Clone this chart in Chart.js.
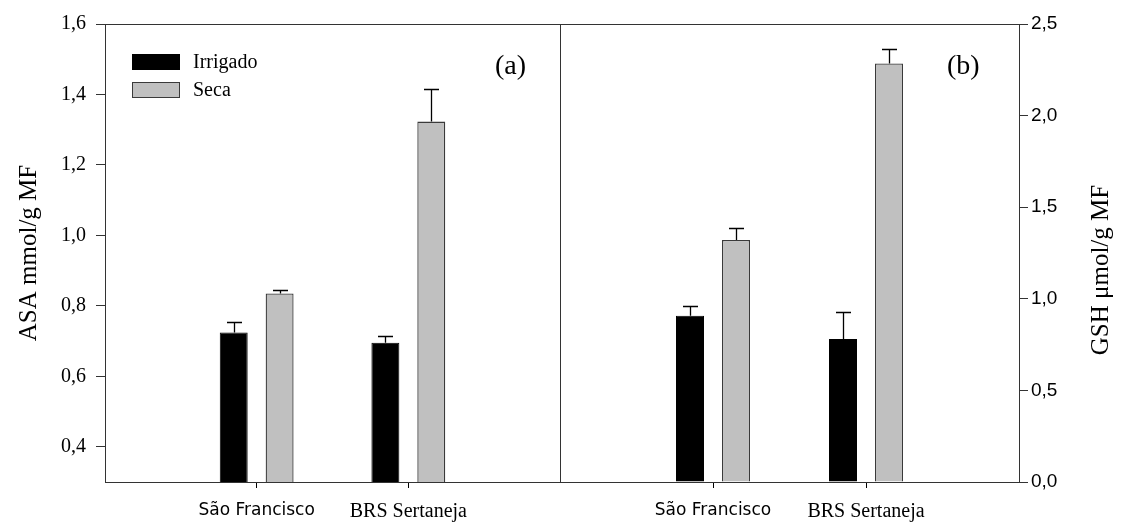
<!DOCTYPE html>
<html><head><meta charset="utf-8">
<script src="https://cdn.jsdelivr.net/npm/chart.js@4"></script>
<style>
html,body{margin:0;padding:0;background:#fff;width:1121px;height:522px;overflow:hidden}
#ca{position:absolute;left:0;top:0}
#cb{position:absolute;left:548px;top:0}
</style></head><body>
<canvas id="ca" width="572" height="522"></canvas>
<canvas id="cb" width="573" height="522"></canvas>
<script>
// ---- data ----
const categories = ['São Francisco', 'BRS Sertaneja'];
const seriesNames = ['Irrigado', 'Seca'];
const asaIrrigado = [0.724, 0.695];
const asaIrrigadoErr = [0.030, 0.020];
const asaSeca = [0.835, 1.323];
const asaSecaErr = [0.010, 0.093];
const gshIrrigado = [0.908, 0.780];
const gshIrrigadoErr = [0.055, 0.146];
const gshSeca = [1.321, 2.285];
const gshSecaErr = [0.065, 0.078];
const asaTicks = [0.4, 0.6, 0.8, 1.0, 1.2, 1.4, 1.6];
const gshTicks = [0.0, 0.5, 1.0, 1.5, 2.0, 2.5];
const asaTitle = 'ASA mmol/g MF';
const gshTitle = 'GSH μmol/g MF';

const SERIF = '"Liberation Serif", "Times New Roman", serif';
const SANS = '"Liberation Sans", Arial, sans-serif';
const DJV = '"DejaVu Sans", Verdana, sans-serif';

const xLabels = [''].concat(categories, ['']);
const pad = a => [null].concat(a, [null]);
const comma = v => Number(v).toFixed(1).replace('.', ',');

function mkDatasets(irr, irrE, sec, secE) {
  return [
    { label: seriesNames[0], data: pad(irr), errors: pad(irrE),
      backgroundColor: '#000000', borderColor: '#000000', borderWidth: 1 },
    { label: seriesNames[1], data: pad(sec), errors: pad(secE),
      backgroundColor: '#c0c0c0', borderColor: '#3a3a3a', borderWidth: 1.3 }
  ];
}

const errorBars = {
  id: 'errorBars',
  afterDatasetsDraw(chart) {
    const ctx = chart.ctx, ys = chart.scales.y;
    ctx.save();
    ctx.strokeStyle = '#000'; ctx.lineWidth = 1.3;
    chart.data.datasets.forEach((ds, i) => {
      const meta = chart.getDatasetMeta(i);
      meta.data.forEach((el, j) => {
        const v = ds.data[j];
        if (v == null) return;
        const yTop = ys.getPixelForValue(v);
        const yErr = ys.getPixelForValue(v + ds.errors[j]);
        const x = Math.round(el.x) + 0.5;
        ctx.beginPath();
        ctx.moveTo(x, yTop); ctx.lineTo(x, Math.round(yErr) + 0.5);
        ctx.moveTo(x - 7.5, Math.round(yErr) + 0.5); ctx.lineTo(x + 7.5, Math.round(yErr) + 0.5);
        ctx.stroke();
      });
    });
    ctx.restore();
  }
};

const frame = {
  id: 'frame',
  afterDraw(chart) {
    const a = chart.chartArea, ctx = chart.ctx;
    ctx.save();
    ctx.strokeStyle = '#333'; ctx.lineWidth = 1;
    ctx.strokeRect(Math.round(a.left) + 0.5, Math.round(a.top) + 0.5,
      Math.round(a.right - a.left), Math.round(a.bottom - a.top));
    ctx.restore();
  }
};

const legendAndLabel = {
  id: 'legendAndLabel',
  afterDraw(chart) {
    const ctx = chart.ctx;
    ctx.save();
    ctx.textBaseline = 'middle';
    ctx.font = '20px ' + SERIF;
    chart.data.datasets.forEach((ds, i) => {
      const y = 54 + i * 28;
      ctx.fillStyle = ds.backgroundColor;
      ctx.fillRect(132, y, 48, 16);
      ctx.strokeStyle = ds.borderColor; ctx.lineWidth = 1;
      ctx.strokeRect(132.5, y + 0.5, 47, 15);
      ctx.fillStyle = '#000';
      ctx.fillText(ds.label, 193, y + 9);
    });
    ctx.font = '28px ' + SERIF;
    ctx.textAlign = 'right';
    ctx.fillText('(a)', 526, 67);
    ctx.restore();
  }
};

const rightLabels = {
  id: 'rightLabels',
  afterDraw(chart) {
    const ctx = chart.ctx;
    ctx.save();
    ctx.fillStyle = '#000';
    ctx.textBaseline = 'middle';
    ctx.font = '28px ' + SERIF;
    ctx.textAlign = 'left';
    ctx.fillText('(b)', 399, 67);
    ctx.font = '25px ' + SERIF;
    ctx.translate(553, 270);
    ctx.rotate(-Math.PI / 2);
    ctx.textAlign = 'center';
    ctx.fillText(gshTitle, 0, 0);
    ctx.restore();
  }
};

function xScale() {
  return {
    type: 'category', offset: false,
    grid: { offset: false, drawOnChartArea: false, drawTicks: true, tickLength: 6,
      color: c => (c.index === 0 || c.index === xLabels.length - 1) ? 'rgba(0,0,0,0)' : '#000' },
    border: { display: false },
    ticks: { color: '#000', padding: 12, maxRotation: 0, autoSkip: false,
      font: c => c.index === 1 ? { family: DJV, size: 17 } : { family: SERIF, size: 20 } },
    afterFit: s => { s.height = 40; }
  };
}

new Chart(document.getElementById('ca'), {
  type: 'bar',
  data: { labels: xLabels, datasets: mkDatasets(asaIrrigado, asaIrrigadoErr, asaSeca, asaSecaErr) },
  options: {
    responsive: false, animation: false, devicePixelRatio: 1,
    categoryPercentage: 92 / 152, barPercentage: 28 / 46,
    layout: { padding: { left: 0, right: 12, top: 24, bottom: 0 } },
    plugins: { legend: { display: false }, tooltip: { enabled: false } },
    scales: {
      x: xScale(),
      y: {
        type: 'linear', position: 'left', min: 0.3, max: 1.6,
        afterBuildTicks: s => { s.ticks = asaTicks.map(v => ({ value: v })); },
        grid: { drawOnChartArea: false, drawTicks: true, tickLength: 9, color: '#333' },
        border: { display: false },
        ticks: { color: '#000', padding: 10, font: { family: SERIF, size: 20 }, callback: comma },
        title: { display: true, text: asaTitle, color: '#000', font: { family: SERIF, size: 25 },
          padding: { top: 14, bottom: 0 } },
        afterFit: s => { s.width = 105; }
      }
    }
  },
  plugins: [errorBars, frame, legendAndLabel]
});

new Chart(document.getElementById('cb'), {
  type: 'bar',
  data: { labels: xLabels, datasets: mkDatasets(gshIrrigado, gshIrrigadoErr, gshSeca, gshSecaErr) },
  options: {
    responsive: false, animation: false, devicePixelRatio: 1,
    categoryPercentage: 92 / 153, barPercentage: 28 / 46,
    layout: { padding: { left: 12, right: 0, top: 24, bottom: 0 } },
    plugins: { legend: { display: false }, tooltip: { enabled: false } },
    scales: {
      x: xScale(),
      y: {
        type: 'linear', position: 'right', min: 0, max: 2.5,
        afterBuildTicks: s => { s.ticks = gshTicks.map(v => ({ value: v })); },
        grid: { drawOnChartArea: false, drawTicks: true, tickLength: 9, color: '#333' },
        border: { display: false },
        ticks: { color: '#000', padding: 3, font: { family: SANS, size: 19 }, callback: comma },
        afterFit: s => { s.width = 102; }
      }
    }
  },
  plugins: [errorBars, frame, rightLabels]
});
</script>
</body></html>
